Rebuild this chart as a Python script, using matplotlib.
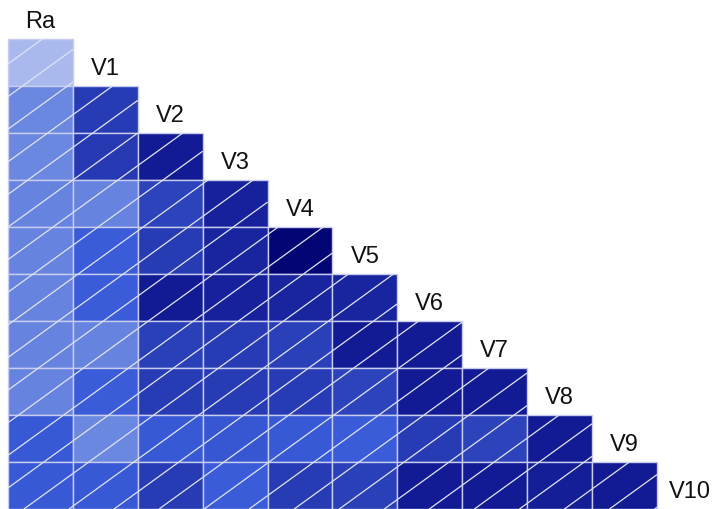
import matplotlib
matplotlib.use("Agg")
import matplotlib.pyplot as plt
from matplotlib.colors import LinearSegmentedColormap, Normalize
from matplotlib.patches import Rectangle
from matplotlib.collections import LineCollection

# variable names along the diagonal
names = ["Ra", "V1", "V2", "V3", "V4", "V5", "V6", "V7", "V8", "V9", "V10"]

# lower triangle of |r|: row for V1..V10, columns Ra..previous variable
r_v1 = [0.40]
r_v2 = [0.55, 0.79]
r_v3 = [0.55, 0.80, 0.89]
r_v4 = [0.56, 0.56, 0.77, 0.87]
r_v5 = [0.56, 0.68, 0.79, 0.86, 0.98]
r_v6 = [0.56, 0.68, 0.89, 0.87, 0.86, 0.86]
r_v7 = [0.56, 0.56, 0.78, 0.79, 0.78, 0.89, 0.89]
r_v8 = [0.56, 0.68, 0.79, 0.79, 0.79, 0.77, 0.89, 0.89]
r_v9 = [0.69, 0.55, 0.69, 0.70, 0.69, 0.68, 0.79, 0.77, 0.89]
r_v10 = [0.69, 0.69, 0.79, 0.68, 0.79, 0.78, 0.89, 0.89, 0.88, 0.89]
rows = [r_v1, r_v2, r_v3, r_v4, r_v5, r_v6, r_v7, r_v8, r_v9, r_v10]

lo, hi = 0.3, 1.0
anchors = [(0.30, "#c6d2f7"), (0.40, "#a9b9ee"), (0.55, "#6a88e0"),
           (0.68, "#3a5cd8"), (0.78, "#2a40b8"), (0.88, "#141e98"),
           (1.00, "#00006e")]
cmap = LinearSegmentedColormap.from_list(
    "blues_corr", [((v - lo) / (hi - lo), c) for v, c in anchors])
norm = Normalize(lo, hi)

n = len(rows)
fig = plt.figure(figsize=(7.16, 5.10), dpi=100)
ax = fig.add_axes([0, 0, 1, 1])
ax.set_xlim(-0.123, 10.909)
ax.set_ylim(0, 10.851)
ax.axis("off")

# diagonal hatch, one global family of lines y - x = c
c0, step = 9.47, 0.694
segs = []
for i, vals in enumerate(rows):
    y0 = n - 1 - i
    for j, v in enumerate(vals):
        x0 = j
        ax.add_patch(Rectangle((x0, y0), 1, 1, facecolor=cmap(norm(v)),
                               edgecolor="#c8cdef", linewidth=1.0, zorder=1))
        k_min = int((y0 - x0 - 1 - c0) / step) - 2
        k_max = int((y0 + 1 - x0 - c0) / step) + 2
        for k in range(k_min, k_max + 1):
            c = c0 + k * step
            xa = max(x0, y0 - c)
            xb = min(x0 + 1, y0 + 1 - c)
            if xb - xa > 0.01:
                segs.append([(xa, xa + c), (xb, xb + c)])

ax.add_collection(LineCollection(segs, colors="#dfe3f7", linewidths=0.9, zorder=2))

# labels sit on the (empty) diagonal cells
for k, name in enumerate(names):
    ax.text(k + 0.5, n - k + 0.39, name, ha="center", va="center",
            fontsize=17, family="Liberation Sans", color="#111111", zorder=3)

fig.savefig("out.png", dpi=100)
